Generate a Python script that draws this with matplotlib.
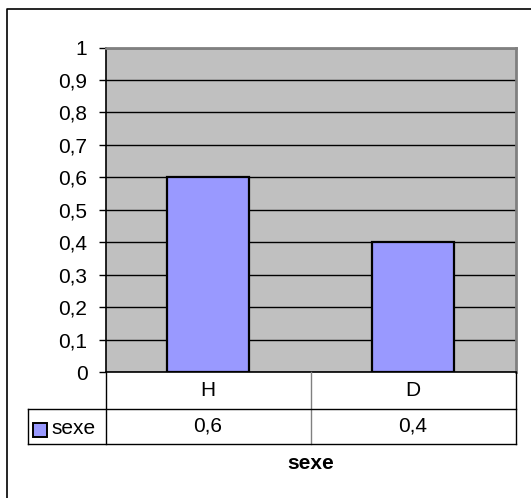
import matplotlib
matplotlib.use("Agg")
from matplotlib import pyplot as plt
from matplotlib.lines import Line2D
from matplotlib.patches import Rectangle

categories = ["H", "D"]
values = [0.6, 0.4]
series_name = "sexe"
value_labels = ["0,6", "0,4"]
y_ticks = [0, 0.1, 0.2, 0.3, 0.4, 0.5, 0.6, 0.7, 0.8, 0.9, 1]
y_tick_labels = ["0", "0,1", "0,2", "0,3", "0,4", "0,5", "0,6", "0,7", "0,8", "0,9", "1"]
x_title = "sexe"

W, H = 531, 498
FS = 15
plt.rcParams["font.family"] = ["Liberation Sans", "DejaVu Sans"]
fig = plt.figure(figsize=(W / 100, H / 100), dpi=100)


def fx(px):
    return px / W


def fy(py):
    return 1 - py / H


# pixel layout of the plot area
left, right, top, bottom = 105.5, 515.5, 47.5, 372.0
row1, row2 = 409.0, 444.0
legend_left = 28.0

ax = fig.add_axes([fx(left), fy(bottom), fx(right - left), (bottom - top) / H])
ax.set_facecolor("#C0C0C0")
x = list(range(len(categories)))
ax.bar(x, values, width=0.4, color="#9999FF", edgecolor="black", linewidth=1.6, zorder=3)
ax.set_xlim(-0.5, len(categories) - 0.5)
ax.set_ylim(0, 1)
ax.set_yticks(y_ticks)
ax.set_yticklabels(y_tick_labels, fontsize=FS)
ax.tick_params(axis="y", length=5, width=1, pad=8, direction="out")
ax.set_xticks([])
ax.yaxis.grid(True, color="black", linewidth=1, zorder=1)
ax.set_axisbelow(True)
for side in ["top", "right"]:
    ax.spines[side].set_color("#808080")
    ax.spines[side].set_linewidth(2)
ax.spines["left"].set_color("black")
ax.spines["bottom"].set_color("black")
ax.spines["left"].set_linewidth(1.2)
ax.spines["bottom"].set_linewidth(1.2)

# data table under the plot
mid = (left + right) / 2
lines = [
    ((left, left), (bottom, row2)),
    ((right, right), (bottom, row2)),
    ((mid, mid), (bottom, row2)),
    ((legend_left, right), (row1, row1)),
    ((legend_left, right), (row2, row2)),
    ((legend_left, legend_left), (row1, row2)),
]
for (x0, x1), (y0, y1) in lines:
    c = "#808080" if x0 == mid and x1 == mid else "black"
    fig.add_artist(Line2D([fx(x0), fx(x1)], [fy(y0), fy(y1)], color=c, linewidth=1))

col_w = (right - left) / len(categories)
for i, (cat, lab) in enumerate(zip(categories, value_labels)):
    cx = left + col_w * (i + 0.5)
    fig.text(fx(cx), fy((bottom + row1) / 2), cat, ha="center", va="center", fontsize=FS)
    fig.text(fx(cx), fy((row1 + row2) / 2 - 1), lab, ha="center", va="center", fontsize=FS)

fig.add_artist(Rectangle((fx(33), fy(437)), fx(14), 14 / H, facecolor="#9999FF",
                         edgecolor="black", linewidth=1.4))
fig.text(fx(51), fy((row1 + row2) / 2 + 2), series_name, ha="left", va="center", fontsize=FS)

fig.text(fx(mid), fy(463), x_title, ha="center", va="center", fontsize=FS, fontweight="bold")

# outer chart border (left and top visible)
fig.add_artist(Line2D([fx(6.5), fx(6.5), fx(531)], [fy(498), fy(9), fy(9)],
                      color="black", linewidth=1.2))

fig.savefig("out.png", dpi=100)
